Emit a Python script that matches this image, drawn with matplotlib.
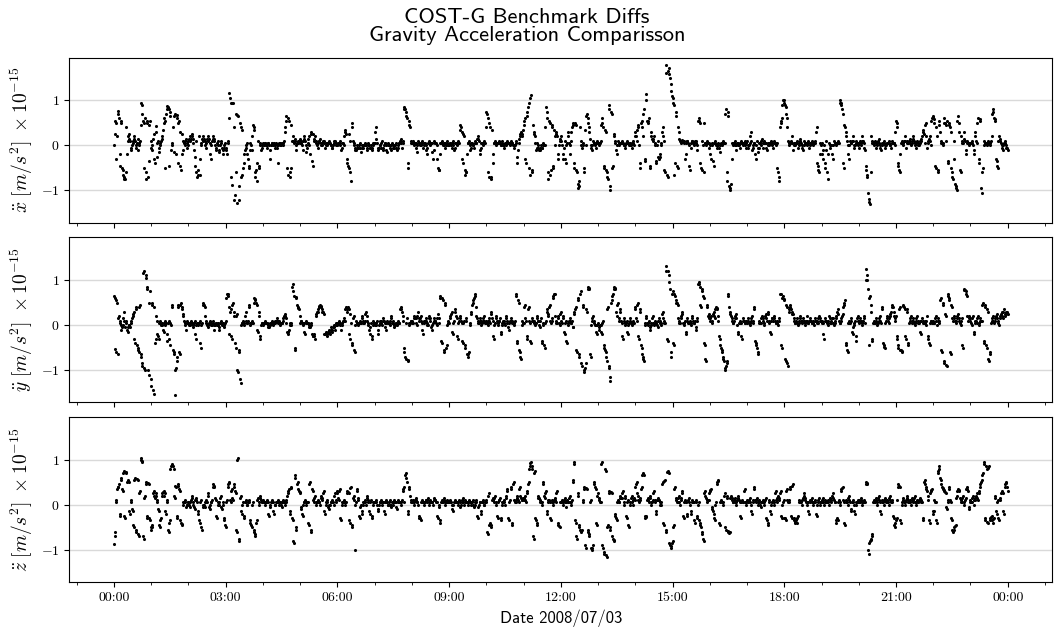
import numpy as np
import matplotlib
matplotlib.use('Agg')
import matplotlib.pyplot as plt
import matplotlib.dates as mdates

#computer modern look for ticks and math labels
plt.rcParams['font.family'] = 'serif'
plt.rcParams['font.serif'] = ['cmr10']
plt.rcParams['mathtext.fontset'] = 'cm'
plt.rcParams['axes.formatter.use_mathtext'] = True
plt.rcParams['font.size'] = 10

#benchmark differences, in hundredths of 1e-15 m/s^2
#one row per hour, one value every 2 minutes (even minutes), last value is 00:00 next day
acc_x = [
    0, 55, -30, 76, 60, -45, 50, -55, -75, -75, -60, 20, 15, 10, -10, 5, 20, 10, -5, 15, 0, 10, 95, 70, -50, 60, -75, 50, -35, 55,
    -5, -10, 25, -40, 43, 5, -15, 0, 10, 20, 50, -50, 70, 88, 80, 65, -10, 5, 65, 70, -20, 68, 50, 30, -55, -20, 10, 0, 15, 5,
    10, 20, 15, 25, 5, -25, -60, -70, -55, -65, 0, 15, 20, 10, -5, 15, 20, 5, -30, 10, 20, 15, -10, 5, 0, -15, 10, -5, -20, 0,
    -10, -20, 5, 117, 95, -88, 93, -120, 70, -128, 65, -90, 40, -65, -50, -20, -5, 5, -30, -50, 5, -10, 45, 35, -60, -80, 10, -50, 0, -5,
    5, 0, 5, -5, 5, 0, -30, 5, 0, 5, -5, 0, -40, 5, 0, 5, 0, 10, 40, 65, -65, 55, -70, -50, 20, 5, 15, -10, 5, 10,
    15, 5, -10, 20, 10, -15, 5, 20, -20, 30, -45, 10, 20, 5, -5, 10, 15, 0, 5, 10, -5, 5, 0, 10, 5, 0, -5, 5, 10, 0,
    0, 5, 10, -10, 5, 0, 35, 25, -40, -50, 10, -80, 50, 5, -5, -10, 0, -5, 5, -15, 0, -5, 5, 0, -10, 5, -5, 0, -10, 5,
    5, 40, 5, -10, 0, -5, 10, -10, 5, 0, -15, 5, 0, -10, 5, -5, 0, 5, -10, 0, 5, 15, -5, 10, 85, 75, 60, -50, 45, 10,
    5, 10, 0, 5, -15, 10, 5, 0, 10, -5, 5, 0, -20, 5, 10, 0, 5, -30, 10, 5, 0, -50, -55, 5, 10, 0, 5, -5, 10, 0,
    0, 5, -5, 10, -10, 5, 0, 10, 5, 45, 30, -40, 20, -65, -60, 5, 10, -10, 5, 0, -5, 10, 5, 20, 10, -20, 5, 0, 10, 5,
    75, 60, -70, 40, -75, -40, 5, 10, 0, 5, 10, 5, 0, 10, -5, 5, 0, 10, 5, 0, 10, 5, -5, 0, 10, -40, 5, 20, 30, 20,
    45, 60, -40, 75, 95, -65, 112, -55, 30, 20, -10, 5, -5, -10, 0, -5, 5, 0, 85, 60, -75, 50, -55, 40, -50, 0, 30, 20, -30, 10,
    20, 0, -30, 10, -40, 5, 30, -20, 10, 40, 50, -50, 45, -60, -95, -80, 10, -5, 5, -60, 0, 70, 50, 30, 0, -10, 10, 5, -5, 10,
    5, 0, 10, 60, 40, -50, 30, -60, -75, 90, -100, 70, -45, 20, 5, -20, 10, 0, 5, 10, 5, 0, -5, 10, 5, 0, 5, -5, 10, 0,
    30, 10, 45, 0, -50, 55, 20, 80, -35, 115, 50, 60, -50, 20, 10, 20, 0, -40, 10, -30, -20, 5, 40, 10, -60, 178, -70, 172, 150, 120,
    105, 90, -40, 65, -50, 30, 10, 5, 13, 10, -30, 5, 10, 0, -55, 5, 10, 0, 10, 5, -10, 60, 50, -50, 10, -60, 5, 0, 10, 5,
    0, -30, 5, -45, 10, 0, -5, 5, -15, 5, 0, 10, 5, 80, -80, 65, -100, -85, 5, 0, 10, -10, 5, 0, -5, 10, 5, 0, 10, -5,
    10, -5, 5, 30, -10, 0, 5, -30, 10, -15, 5, 0, 15, -5, 10, 5, -10, 5, 0, 10, 5, -5, 10, 0, 5, -60, -80, 50, 60, 100,
    100, 85, 60, 10, 0, 5, 20, -10, 5, 0, 10, -5, 5, 15, 0, -10, 10, 5, 0, 10, -5, 5, 10, 0, 5, 10, 40, -45, -60, 5,
    5, -30, 0, -50, 10, -75, 5, -5, 0, -30, 10, 5, 0, 10, 5, 100, 90, 70, -50, 40, 20, 0, -30, 10, 5, 20, -5, 0, 10, 5,
    -5, 10, 0, 20, 5, -10, -55, -70, -118, -130, 20, 5, 0, 10, -5, 5, 15, 0, -10, 5, 10, -5, 0, 5, 10, 0, -5, 10, 5, 0,
    55, 40, -45, -60, 5, 10, 0, 20, -5, 10, 5, 15, 0, 10, 20, 5, -5, 10, 0, 5, 10, 20, 35, 5, 50, -5, 10, 20, 0, 60,
    65, 50, -50, 20, -60, 55, 10, 5, 0, 60, 10, 55, -40, 45, 30, -60, -75, 10, -90, -100, 65, 30, -60, 10, 5, 30, -20, 10, 5, 0,
    5, 10, 0, -20, 30, 5, 60, -40, 55, -105, -50, 10, 5, 0, 10, 5, 0, 20, 80, 60, 55, -35, -50, 20, 10, 0, -10, 5, 10, -5,
    -10]

#odd minutes
acc_x_mid = [
    25, 50, 20, 70, -20, 55, -50, -65, -70, 40, -20, 10, 25, -5, 0, 10, 15, 0, 5, -10, 5, 45, 90, 55, 50, -60, 55, -70, 45, 10,
    0, 15, -30, 30, -25, 10, -5, 5, 15, 35, 60, 55, 80, 85, -45, 75, 0, 40, -15, 68, 60, -40, 55, -45, 25, -10, 5, 10, -5, 0,
    15, 10, 20, 15, -10, -45, 10, -65, 20, -30, 5, 10, 15, 0, 5, 10, 15, -20, 0, 15, 10, 0, -5, 10, -10, 0, 5, -10, -5, 5,
    -5, 10, 60, 105, -70, 94, 40, -110, -60, 68, -120, 50, -70, 35, -40, -10, 0, -20, -45, -10, 0, 20, 40, -70, -55, -40, -45, 5, -10, 0,
    0, 5, 0, 0, 5, -10, 0, 5, 0, 0, 5, -5, 0, 5, 0, 5, 5, 30, 55, -50, 60, -60, 45, 10, 10, 10, 0, 5, 10, 5,
    10, 0, 10, 15, 0, -5, 15, 0, 25, -35, 25, 15, 10, 0, 5, 10, 5, 0, 10, 5, 0, 5, 5, 5, 0, -5, 0, 10, 5, 0,
    5, 5, 0, -5, 5, 20, 30, -30, -45, 25, -60, 40, 10, 0, -10, -5, -5, 0, -5, -5, 0, 0, 0, -5, 0, 0, -5, -5, 0, 5,
    30, 15, -5, -5, 0, 5, -5, 0, 5, -10, 0, 0, -5, 0, 0, -5, 0, -5, -5, 5, 10, 5, 5, 80, 80, 65, -40, 55, 40, 5,
    5, 5, 5, -5, 0, 5, 0, 5, 5, 0, 5, -10, -5, 5, 5, 5, -15, -10, 5, 5, -30, -55, -20, 5, 5, 0, 5, 0, 5, 0,
    5, 0, 5, 0, -5, 5, 5, 5, 35, 40, -30, 25, -55, -60, -20, 5, 0, -5, 5, 0, 5, 5, 15, 15, -10, -5, 5, 5, 5, 40,
    70, -60, 50, -70, 35, -20, 5, 5, 5, 5, 5, 0, 5, 0, 0, 5, 5, 5, 5, 5, 5, 0, 0, 5, -25, -10, 15, 25, 25, 35,
    55, -30, 65, 85, -50, 105, -60, 45, 25, 5, -5, 0, -10, -5, -5, 0, 0, 40, 75, -60, 55, -65, 45, -45, 35, 20, 25, -20, 0, 15,
    10, -20, -5, -30, 0, 20, 5, 0, 30, 45, -40, 50, -55, -85, -90, 40, 0, 0, -50, 35, 65, 60, 40, 15, -5, 0, 5, 0, 5, 5,
    5, 5, 45, 50, -45, 35, -55, -70, 80, -90, 75, -50, 25, 10, -10, 0, 5, 5, 5, 5, 0, 0, 5, 5, 5, 0, 0, 5, 5, 20,
    20, 35, 40, -40, 50, 40, 70, -30, 100, 55, 55, -45, 30, 15, 15, 5, -35, 0, -25, -25, 0, 30, 20, -55, 160, -65, 165, 158, 137, 110,
    95, -65, 75, -45, 40, 15, 10, 10, 10, 5, -20, 10, 5, -45, -5, 10, 5, 5, 10, 0, 55, 55, -40, -55, 0, 50, 5, 5, 5, -5,
    -20, 0, -35, 5, 5, 0, 0, -5, 0, 5, 5, 5, 70, -60, 75, -90, -95, -30, 5, 5, 0, 0, 5, 0, 5, 5, 5, 5, 0, 5,
    0, 0, 20, 10, -5, 5, -20, 0, -5, -5, 5, 10, 5, 5, 5, -5, 0, 5, 5, 5, 0, 5, 5, 5, -50, -70, 40, 55, 90, 95,
    90, 70, 40, 5, 5, 10, 5, 0, 5, 5, 5, 0, 10, 5, -5, 0, 5, 5, 5, 5, 0, 5, 5, 5, 5, 30, -40, -55, -20, 0,
    -20, -10, -40, -10, -60, -20, 0, 0, -20, 0, 5, 5, 5, 5, 95, 95, 80, -40, 45, 30, 10, -20, 0, 5, 10, 10, 0, 5, 5, 0,
    5, 5, 10, 10, -5, -45, -65, -105, -125, -60, 10, 5, 5, 5, 0, 10, 5, -5, 0, 5, 5, 0, 5, 5, 5, 0, 5, 5, 5, 30,
    50, -40, -55, -20, 5, 5, 10, 10, 5, 5, 10, 5, 5, 15, 10, 0, 5, 5, 0, 10, 15, 30, 25, 45, 20, 5, 15, 10, 55, 62,
    58, -45, 40, -55, 45, 30, 5, 5, 50, 50, 45, -35, 50, 40, -50, -70, -30, -85, -95, 55, 50, -55, 20, 5, 15, 10, -10, 5, 5, 5,
    5, 5, -10, 20, 10, 50, -30, 58, -95, -60, 0, 5, 5, 5, 5, 5, 10, 70, 75, 58, -30, -45, 10, 15, 5, -5, 0, 5, 0, -5]

acc_y = [
    64, -52, 55, -65, 20, 5, -10, 0, 30, -5, 10, -15, 0, -5, 10, 20, 30, -40, 40, -50, -60, 45, -70, -90, 120, -100, 110, 80, -110, 75,
    -135, 45, -152, -40, 20, -20, -30, 10, 0, 5, -15, 10, 5, -35, 10, -45, 0, 45, -60, -155, -95, -70, 40, -65, 50, 35, 20, 5, -10, 10,
    5, 0, 10, 5, -5, 10, -30, 5, 0, 10, -50, 5, 50, 40, 10, 0, -5, 10, 5, 0, 10, -10, 5, 0, 5, -10, 10, 0, 5, -5,
    10, 70, 65, -20, 35, -30, 50, 20, -50, 25, -105, -60, -128, 5, 10, 0, 30, 5, 10, 45, 0, 10, 5, 60, 55, 45, -15, 30, -30, 5,
    0, 5, 10, 5, 0, -5, 5, 10, 0, 5, 10, 15, 5, 10, 0, 5, 10, 20, 25, 5, -20, -10, 5, 0, 90, 65, -55, 60, 40, 35,
    5, 10, 0, 5, -20, 10, 5, 0, -5, 5, -25, -20, -30, 25, 30, 40, 45, 40, 30, 25, -20, -15, -25, -10, -20, -5, -15, 0, -10, 5,
    0, 10, 5, -10, 5, 15, 10, 40, 30, 35, -30, 5, -45, 20, -60, 10, 5, 0, 10, 5, 20, 5, 10, 30, 10, 0, -20, 5, -30, 10,
    5, 0, 10, -20, 5, 10, 0, 15, 5, -10, 10, 5, 0, 20, 5, 10, -5, 5, 0, 10, 5, 40, 30, 10, -60, -75, 15, -80, 5, 10,
    10, 5, 20, 15, 0, 30, 10, 20, 5, -20, 10, 15, 5, 0, 20, 10, -10, 5, 15, 10, 0, 25, 5, 65, -40, 55, -60, 45, -45, 10,
    5, 20, 30, -20, 10, 35, 15, -30, 10, 20, 5, -40, 10, -50, 15, -70, -60, 5, 30, 50, 60, 70, 20, 10, 5, 15, 0, 10, 20, 5,
    10, 0, 15, 5, 30, 10, -30, 5, 20, 0, 10, 15, -20, 5, 10, 0, 20, 5, -10, 10, 15, 5, 0, 10, 70, -40, 50, -60, -75, 10,
    5, 45, 10, -30, 40, 5, -40, 15, 10, 0, 5, 20, 10, -5, 15, -40, 5, -50, 10, 35, 20, 45, 5, 15, 65, 70, 10, 5, 20, 0,
    30, 5, 20, -20, 10, -40, 0, 15, 5, 10, -5, 30, 40, -60, 60, -70, 75, -90, 40, -105, -85, 30, 85, 80, -70, 10, 20, 5, 0, -20,
    5, -10, 0, -20, 10, -50, -60, -80, 40, -95, -125, 55, 70, 85, 80, 20, 50, 10, 35, 5, -30, 15, 0, 10, -20, 5, 15, 0, 10, 5,
    40, 10, 50, -30, 30, -50, -70, -80, 5, 20, 0, 10, -10, 5, 20, 0, 10, 5, -5, 15, 10, 0, 30, 10, 5, 130, -35, 110, 80, -70,
    75, -45, 65, 50, 45, 10, 5, 20, 30, 0, 10, -20, 15, 5, 10, 0, 20, 5, 10, -10, 15, 95, 85, 40, 75, 60, -45, -80, 45, 25,
    10, 20, 5, 30, 15, 40, 35, 10, -30, -50, -60, -75, -100, -90, -80, 70, 30, 20, 10, 5, 15, 25, 0, -20, 10, 5, -30, 15, 5, 10,
    5, 15, 0, 10, 20, 5, 40, -40, -50, -65, 10, 5, 20, 15, 0, 25, 10, 30, 5, -20, 15, 10, 20, 5, 10, 0, 15, 70, -50, 65,
    55, -80, 40, -90, 30, 45, 30, 25, 10, 5, 15, 0, 10, 20, 5, 15, 10, 0, 20, 5, 10, 15, 5, 10, 0, 15, 10, 5, 20, 10,
    10, 5, -30, 15, 10, 0, 20, 5, 10, 15, 0, 10, 20, 35, 10, 5, 15, 25, 45, 55, -45, -60, 10, 5, 15, -20, 0, 10, -35, 20,
    5, 15, 10, 0, 20, 5, 125, 100, -45, 65, 30, -30, 10, 5, 15, 0, 10, 20, 5, 40, -45, -50, 10, 20, 5, 20, 30, 45, 30, 15,
    20, -30, -50, 40, -55, -60, 45, 35, -30, 30, -45, 10, 20, 5, 15, 0, 10, 20, 5, 10, -20, 15, 5, 10, 0, 20, -30, -45, 10, 5,
    10, 5, 20, 0, 15, 10, 60, -60, 45, -85, 20, -90, 70, 55, -65, 40, 10, 20, 5, 15, 25, 10, 0, 15, -50, 80, 75, 65, 10, 20,
    15, 0, 20, -20, 10, 5, 20, 0, 15, 10, 50, -40, 40, -50, 30, -80, -60, 10, 20, 5, 15, 25, 10, 0, 20, 30, 15, 35, 20, 30,
    25]

acc_y_mid = [
    60, -60, 50, 15, 10, 0, -5, 15, 10, 5, -10, -5, 0, 5, 15, 25, -30, 35, -45, -55, 40, -65, -85, 115, -95, 105, 85, -100, 50, -120,
    50, -145, 40, -30, 10, -25, 5, 5, 0, -10, 5, 0, -20, 5, -30, 5, 40, -55, -65, -100, -80, 45, -60, 45, 40, 25, 10, 0, 5, 5,
    0, 5, 5, 0, 5, -20, 0, 5, 5, -40, 0, 45, 45, 20, 5, 0, 5, 5, 0, 5, 0, 0, 5, 0, -5, 5, 5, 0, 0, 5,
    60, 68, 40, 30, -25, 45, 30, -40, 20, -100, -55, -120, 0, 5, 5, 20, 10, 5, 40, 5, 5, 5, 50, 58, 50, -10, 20, -25, 0, 5,
    5, 5, 5, 5, -5, 0, 5, 5, 5, 5, 10, 10, 10, 5, 5, 5, 15, 20, 15, -15, -15, 0, 5, 85, 75, -50, 62, 45, 38, 20,
    10, 5, 5, -15, 5, 5, 5, -5, 0, -20, -25, -25, 20, 28, 35, 42, 42, 35, 28, -20, -18, -20, -15, -15, -10, -10, -5, -5, 0, 5,
    5, 5, 0, 0, 10, 10, 35, 35, 40, -20, 25, -40, 15, -55, 0, 5, 5, 5, 5, 15, 10, 5, 25, 20, 5, -10, -5, -25, 0, 5,
    0, 5, -10, 0, 10, 5, 10, 10, -5, 5, 5, 5, 10, 15, 5, 0, 0, 5, 5, 5, 35, 35, 20, -50, -70, 5, -78, 0, 5, 10,
    5, 15, 15, 5, 20, 15, 15, 10, -10, 5, 10, 10, 0, 15, 15, -5, 0, 10, 10, 5, 15, 15, 60, -35, 60, -55, 50, -50, 0, 5,
    15, 25, -15, 5, 30, 20, -25, 5, 15, 10, -35, 5, -45, 10, -65, -65, 0, 25, 45, 55, 65, 40, 15, 5, 10, 10, 5, 15, 10, 5,
    5, 10, 10, 25, 15, -25, 0, 15, 10, 5, 10, -15, 0, 10, 5, 15, 10, -5, 5, 10, 10, 5, 5, 65, -35, 55, -55, -70, 0, 5,
    40, 15, -25, 35, 10, -35, 10, 10, 5, 5, 15, 10, 0, 10, -35, 0, -45, 5, 30, 25, 40, 10, 10, 60, 68, 20, 5, 15, 5, 25,
    10, 15, -15, 5, -35, 5, 10, 10, 5, -5, 25, 35, -55, 55, -65, 70, -85, 45, -100, -95, 35, 80, 82, -65, 0, 15, 10, 0, -15, 0,
    -5, 0, -15, 5, -45, -55, -70, 35, -90, -115, 50, 65, 80, 82, 30, 45, 15, 30, 10, -25, 10, 5, 5, -15, 0, 10, 5, 5, 5, 35,
    15, 45, -25, 35, -45, -65, -75, 0, 15, 5, 5, -5, 0, 15, 5, 5, 5, 0, 10, 5, 5, 25, 15, 5, 120, -30, 120, 95, -60, 70,
    -40, 70, 55, 48, 15, 5, 15, 25, 5, 5, -15, 10, 5, 5, 5, 15, 10, 5, -5, 10, 90, 90, 45, 80, 65, -40, -75, 40, 20, 15,
    15, 10, 25, 20, 35, 38, 20, -25, -45, -55, -70, -80, -95, -85, 65, 40, 25, 15, 5, 10, 20, 15, -15, 5, 5, -25, 10, 10, 5, 10,
    10, 5, 5, 15, 10, 35, -35, -45, -60, 5, 5, 15, 10, 5, 20, 15, 25, 10, -15, 10, 15, 15, 10, 5, 5, 10, 68, -45, 60, 58,
    -75, 45, -85, 35, 40, 35, 25, 15, 5, 10, 5, 5, 15, 10, 10, 10, 5, 10, 10, 5, 10, 10, 5, 5, 10, 10, 5, 15, 15, 10,
    5, -20, 10, 10, 5, 10, 15, 5, 15, 5, 5, 15, 30, 25, 5, 10, 20, 40, 50, -40, -55, 5, 5, 10, -15, -5, 5, -25, 15, 10,
    10, 10, 5, 10, 15, 100, 110, 80, 60, 45, -35, 5, 5, 10, 5, 5, 15, 10, 35, -40, -48, 5, 15, 10, 15, 25, 40, 40, 20, 10,
    -25, -45, 35, -55, -58, 42, 40, -25, 35, -40, 5, 15, 10, 10, 5, 5, 15, 10, 5, -15, 10, 10, 5, 5, 10, -25, -40, 5, 10, 5,
    5, 15, 10, 10, 5, 55, -55, 50, -80, 25, -88, 65, 60, -60, 45, 15, 15, 10, 10, 20, 15, 5, 10, -45, 78, 78, 70, 20, 15, 10,
    5, 15, -15, 5, 10, 15, 5, 10, 10, 45, -35, 45, -45, 35, -75, -65, 5, 15, 10, 10, 20, 15, 5, 15, 25, 20, 30, 25, 25, 28]

acc_z = [
    -88, -60, 5, 40, 45, -25, 60, 30, 75, -30, 70, 55, 50, -20, 10, -15, -50, 60, -60, 55, -70, 30, 103, 95, -75, 20, 50, -30, 45, -35,
    -55, -45, 30, 15, 20, 5, -15, -50, -30, 25, 30, 25, -20, 10, -60, -35, 85, 90, 80, 15, 40, -30, 45, 30, -40, -45, 5, 10, -5, 0,
    5, -5, 10, 20, 0, -10, 15, 5, -20, -40, 10, -55, 0, -5, 10, 5, 25, -10, 5, 10, 45, 40, 10, -30, 5, 0, 20, -10, 5, -35,
    -50, 10, 45, 50, 5, 35, 10, 45, 25, -60, 103, -80, 20, -20, 5, -30, 10, 0, 5, 10, -40, -50, 5, -60, -70, -35, 15, 0, 20, 5,
    10, 5, 0, 10, 5, -25, 0, 10, 5, -20, 0, 5, 10, 0, 5, -5, 10, 5, 0, 10, 25, 35, -20, 40, -35, -85, 65, -55, 50, 30,
    25, -10, -25, 5, 10, 0, 5, -45, 50, -60, 30, 5, 20, 0, 10, 5, 0, 20, 10, 30, -20, 5, 10, -10, 0, 5, 10, 0, 25, 5,
    30, 10, 35, -35, 5, 10, 0, 5, 30, 25, -40, 40, -50, 20, -100, 5, 35, 10, -30, 0, -20, 5, 10, 0, 20, 5, -20, 10, -30, 5,
    5, 10, 0, -15, 5, 10, 0, 5, -20, 10, 5, 0, 10, -5, 5, 0, 10, 5, -10, 10, 5, 0, 10, 35, 5, 70, 50, -20, 35, 10,
    5, 10, 0, 15, 5, 0, -30, -35, 10, 5, 0, 10, 5, 15, 0, 10, 5, 0, 15, 10, 5, -30, 0, -40, 10, 5, 15, 0, 10, 5,
    5, 10, 0, -15, 5, 10, 5, 0, 10, -5, 5, 15, 0, 10, 5, 0, 10, 5, 0, 10, -5, 5, 10, -30, 0, 5, -20, 10, 0, 5,
    10, -65, 25, -40, -50, 15, 5, 20, 0, -30, 10, 15, -35, 5, 10, 0, 20, 35, -35, 10, 40, -45, 50, 5, 10, 20, 5, 40, 15, 10,
    10, 20, 5, 30, 50, 85, 95, 80, -75, 75, -35, -45, 20, 10, 5, 0, 50, 15, 30, -20, 10, 5, -35, 10, 0, 15, 5, 30, -45, -50,
    5, 10, 0, 15, -5, 10, 5, 20, 0, 10, 55, 95, -40, -75, 25, -50, -60, -55, 10, 40, -95, 35, -60, -70, 10, -100, -90, 50, 35, -45,
    25, 10, 5, 95, -95, -110, 75, -115, -45, 30, -55, 25, -75, -80, -20, -35, 10, 5, 20, 15, 30, 0, 20, -30, 10, -50, 5, 20, 0, 15,
    10, 50, 20, 5, 15, 40, 70, 65, -30, -25, 15, 5, 20, 0, 10, 30, 5, -20, 15, 10, 0, 5, 50, -45, 55, -60, 75, 70, -90, -95,
    -80, -45, 40, 10, 5, 20, 0, 15, 30, -30, 10, 5, -25, 15, 0, -20, 10, 5, -40, 10, -30, 5, -40, -50, -65, -80, 30, 15, 5, 10,
    30, 35, -10, -20, -35, 5, 50, 55, -45, 10, 5, 0, 25, -55, 20, -60, -60, 20, 10, 5, 15, 0, 10, 20, 5, -30, 10, 5, 35, 0,
    10, 5, 15, 0, -20, 10, 40, 5, 15, 0, 10, -5, 5, 10, 0, 15, -35, -45, 10, -20, 5, 10, 0, 30, 5, 20, 10, 30, -30, 5,
    10, -35, 35, 5, 10, 40, -30, 45, -35, -40, -40, -25, 10, 5, 0, 15, 25, 10, 0, 5, -20, 10, 15, 0, 5, 10, -25, 5, 15, 0,
    5, 15, 0, 10, 5, 10, 0, 15, 5, 25, 10, 5, -40, -35, 10, 0, 35, 40, 5, -45, 10, 0, 20, 5, -15, 10, 0, -20, 5, 10,
    10, 5, 15, 0, 10, 5, 50, 45, -110, -80, -75, -65, 10, 5, 15, 0, 20, 5, -20, 10, 0, 15, 5, 10, 0, 20, 5, 10, -30, -50,
    -35, 10, 45, 40, -40, 5, 15, 0, 10, 20, 5, 10, 0, 15, 5, 20, 0, 10, 5, 15, 10, 5, -35, 55, 40, 30, 10, -40, 30, 35,
    -20, 10, 5, -40, 75, 85, 55, 40, 35, 30, 25, -10, 10, 40, 5, -35, -60, -50, -45, 20, 35, 30, 10, 5, 20, 0, 15, 40, 30, -10,
    10, 5, 20, 0, 15, 25, 10, 30, 45, 55, 70, 95, -35, 80, -40, 85, -35, -25, -40, -30, 20, -20, 10, -35, 15, 30, 25, -20, 45, 50,
    30]

acc_z_mid = [
    -70, 10, 35, 40, -20, 55, 35, 70, -25, 72, 50, 52, -15, 5, -10, -45, 55, -55, 58, -65, 25, 100, 98, -70, 15, 45, -25, 48, -30, -50,
    -50, 25, 20, 25, 10, -10, -45, -35, 20, 28, 20, -15, 5, -55, -40, 80, 88, 85, 20, 42, -25, 42, 35, -35, -42, 0, 5, 5, 0, 5,
    0, 5, 15, 5, -5, 10, 10, -15, -35, 5, -50, -5, 0, 5, 5, 20, -5, 0, 5, 40, 42, 15, -25, 0, 5, 15, -5, 0, -30, -45,
    5, 40, 48, 10, 30, 15, 40, 30, -55, 100, -75, 15, -15, 0, -25, 5, 5, 0, 5, -35, -45, 0, -55, -65, -40, 10, 5, 15, 10, 5,
    5, 5, 5, 5, -20, -5, 5, 5, -15, 0, 5, 5, 5, 5, 0, 5, 5, 5, 5, 20, 30, -15, 38, -30, -80, 60, -50, 45, 35, 28,
    -5, -20, 0, 5, 5, 5, -40, 45, -55, 35, 10, 15, 5, 5, 5, 5, 15, 15, 25, -15, 0, 5, -5, 0, 5, 5, 5, 20, 10, 25,
    15, 30, -30, 0, 5, 5, 5, 25, 28, -35, 38, -45, 15, 10, 0, 30, 15, -25, -5, -15, 0, 5, 5, 15, 10, -15, 5, -25, 0, 5,
    5, 5, -10, 0, 5, 5, 5, -15, 5, 5, 0, 5, 0, 0, 5, 5, 5, -5, 5, 5, 5, 5, 30, 40, 65, 60, -15, 40, 20, 5,
    5, 5, 10, 10, 5, -25, -30, 5, 5, 5, 5, 10, 10, 5, 5, 5, 5, 10, 10, 5, -25, -5, -35, 5, 5, 10, 5, 5, 5, 5,
    5, 5, -10, 0, 5, 5, 5, 5, 5, 0, 10, 5, 5, 5, 5, 5, 5, 5, 5, 0, 0, 5, -25, -5, 5, -15, 5, 5, 0, 5,
    -60, 20, -45, -45, 10, 10, 15, 5, -25, 5, 10, -30, 0, 5, 5, 15, 30, -30, 5, 35, -40, 45, 10, 5, 15, 10, 35, 20, 10, 15,
    15, 10, 25, 45, 80, 92, 85, -70, 70, -30, -40, 15, 15, 5, 5, 45, 20, 25, -15, 5, 10, -30, 5, 5, 10, 10, 25, -40, -48, 5,
    5, 5, 10, 5, 5, 5, 15, 5, 5, 50, 90, -35, -70, 20, -45, -55, -58, 5, 35, -90, 38, -55, -65, 5, -95, -95, 45, 40, -40, 20,
    15, 5, 90, -90, -105, 80, -112, -50, 25, -50, 28, -70, -78, -25, -30, 5, 5, 15, 15, 25, 5, 15, -25, 5, -45, 0, 15, 5, 10, 40,
    45, 25, 10, 10, 35, 65, 68, -25, -28, 10, 10, 15, 5, 5, 25, 10, -15, 10, 10, 5, 0, 45, -40, 52, -55, 72, 72, -85, -92, -85,
    -50, 35, 15, 5, 15, 5, 10, 25, -25, 5, 5, -20, 10, 5, -15, 5, 5, -35, 5, -25, 0, -35, -45, -60, -75, 25, 20, 10, 10, 25,
    32, -5, -15, -30, 0, 45, 52, -40, 5, 5, 5, 20, -50, 15, -58, -62, 15, 15, 5, 10, 5, 5, 15, 10, -25, 5, 5, 30, 5, 5,
    5, 10, 5, -15, 5, 35, 10, 10, 5, 5, 0, 5, 5, 5, 10, -30, -40, 5, -15, 0, 5, 5, 25, 10, 15, 15, 25, -25, 0, -30,
    -30, 30, 10, 5, 35, -25, 42, -30, -38, -35, -30, 5, 5, 5, 10, 20, 15, 5, 5, -15, 5, 10, 5, 5, 5, -20, 0, 10, 5, 5,
    10, 5, 5, 5, 5, 5, 10, 10, 20, 15, 5, -35, -30, 5, 5, 30, 38, 10, -40, 5, 5, 15, 10, -10, 5, 5, -15, 0, 5, 5,
    5, 10, 5, 5, 5, 45, 48, -100, -85, -78, -70, 5, 5, 10, 5, 15, 10, -15, 5, 5, 10, 10, 5, 5, 15, 10, 5, -25, -45, -40,
    -30, 40, 42, -35, 0, 10, 5, 5, 15, 10, 5, 5, 10, 10, 15, 5, 5, 5, 10, 10, 5, -30, 50, 45, 35, 20, -35, 25, 32, -15,
    -15, 5, -35, 70, 80, 60, 45, 38, 32, 28, -5, 5, 35, 10, -30, -55, -55, -48, 15, 30, 32, 15, 5, 15, 5, 10, 35, 35, -5, 5,
    5, 15, 10, 10, 20, 15, 25, 40, 50, 65, 90, -30, 85, -38, 82, -30, -28, -35, -32, 15, -15, 5, -30, 10, 25, 28, -15, 40, 48, 40]

ylabels = [r'$\ddot{x}\ [m/s^2]\ \times 10^{-15}$',
           r'$\ddot{y}\ [m/s^2]\ \times 10^{-15}$',
           r'$\ddot{z}\ [m/s^2]\ \times 10^{-15}$']

start = np.datetime64('2008-07-03T00:00')
step = np.timedelta64(2, 'm')
half = np.timedelta64(1, 'm')

fig, axes = plt.subplots(3, 1, sharex=True, sharey=True, figsize=(10.54, 6.31), dpi=100)
fig.subplots_adjust(left=0.0657, right=0.9985, bottom=0.0775, top=0.9086, hspace=0.088)

series = [(acc_x, acc_x_mid), (acc_y, acc_y_mid), (acc_z, acc_z_mid)]
for ax, (even, odd), lab in zip(axes, series, ylabels):
    t_even = start + np.arange(len(even)) * step
    t_odd = start + half + np.arange(len(odd)) * step
    t = np.concatenate([t_even, t_odd])
    vals = np.concatenate([np.array(even), np.array(odd)]) * 0.01
    ax.scatter(t, vals, s=5, c='k', linewidths=0, zorder=3)
    ax.set_ylabel(lab, fontsize=14)
    ax.grid(axis='y', color='#d9d9d9', linewidth=1)
    ax.set_axisbelow(True)
    ax.set_yticks([-1, 0, 1])
    ax.xaxis.set_major_locator(mdates.HourLocator(byhour=range(0, 24, 3)))
    ax.xaxis.set_minor_locator(mdates.HourLocator())
    ax.xaxis.set_major_formatter(mdates.DateFormatter('%H:%M'))

axes[2].set_xlabel('Date 2008/07/03', family='cmss10', fontsize=12)
fig.suptitle('COST-G Benchmark Diffs\nGravity Acceleration Comparisson',
             family='cmss10', fontsize=16.2, y=0.988, linespacing=0.95)

plt.savefig('out.png', dpi=100)
